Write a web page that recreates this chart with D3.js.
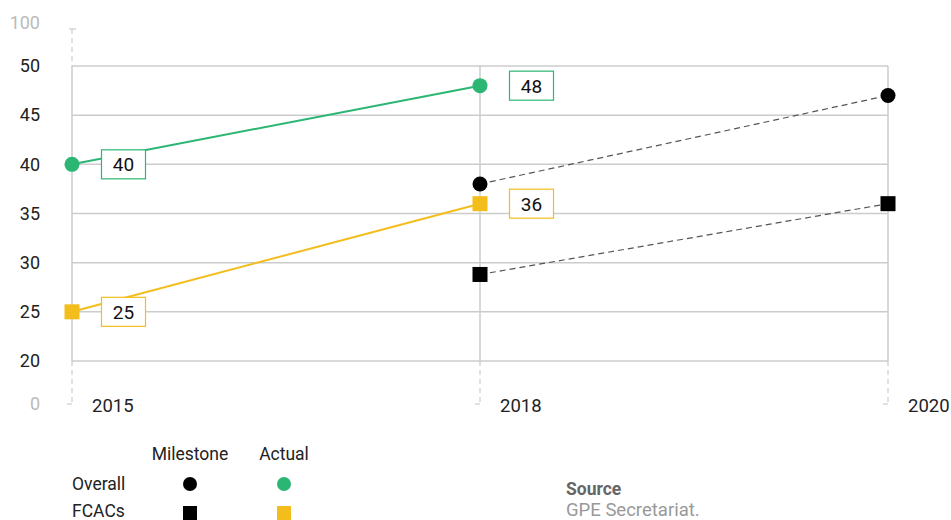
<!DOCTYPE html>
<html>
<head>
<meta charset="utf-8">
<script src="https://cdn.jsdelivr.net/npm/d3@7"></script>
<style>
  body { margin: 0; background: #fff; }
  svg { font-family: Roboto, "DejaVu Sans", sans-serif; }
</style>
</head>
<body>
<svg id="chart" width="951" height="520"></svg>
<script>
// data
const years = ["2015", "2018", "2020"];
const yTicks = [20, 25, 30, 35, 40, 45, 50];
const overallActual = [["2015", 40], ["2018", 48]];
const fcacActual = [["2015", 25], ["2018", 36]];
const overallMilestone = [["2018", 38], ["2020", 47]];
const fcacMilestone = [["2018", 28.8], ["2020", 36]];

const green = "#2bb673";
const yellow = "#f3bd1b";
const grid = "#cccccc";

const svg = d3.select("#chart");

let x = d3.scalePoint().domain(years).range([72, 888]);
let y = d3.scaleLinear().domain([20, 50]).range([361, 66]);

// gridlines
svg.append("g").selectAll("line").data(yTicks).join("line")
  .attr("x1", 72).attr("x2", 888)
  .attr("y1", d => y(d)).attr("y2", d => y(d))
  .attr("stroke", grid).attr("stroke-width", 1.5);

// vertical lines per year, solid inside, dashed below (axis break)
years.forEach(function(yr) {
  let xx = x(yr);
  svg.append("line").attr("x1", xx).attr("x2", xx).attr("y1", y(50)).attr("y2", y(20))
    .attr("stroke", grid).attr("stroke-width", 1.5);
  svg.append("line").attr("x1", xx).attr("x2", xx).attr("y1", y(20)).attr("y2", 404)
    .attr("stroke", grid).attr("stroke-width", 1.2).attr("stroke-dasharray", "5,4");
  svg.append("line").attr("x1", xx - 5).attr("x2", xx).attr("y1", 404).attr("y2", 404)
    .attr("stroke", grid).attr("stroke-width", 1.2);
});
// top break on left axis
svg.append("line").attr("x1", 72).attr("x2", 72).attr("y1", 29).attr("y2", y(50))
  .attr("stroke", grid).attr("stroke-width", 1.2).attr("stroke-dasharray", "5,4");
svg.append("line").attr("x1", 69).attr("x2", 76).attr("y1", 29).attr("y2", 29)
  .attr("stroke", grid).attr("stroke-width", 1.2);

// y labels
svg.append("g").selectAll("text").data(yTicks).join("text")
  .attr("x", 40).attr("y", d => y(d)).attr("dy", "0.35em")
  .attr("text-anchor", "end").attr("font-size", 18).attr("fill", "#222")
  .text(d => d);
svg.append("text").attr("x", 40).attr("y", 23).attr("dy", "0.35em")
  .attr("text-anchor", "end").attr("font-size", 18).attr("fill", "#bbb").text("100");
svg.append("text").attr("x", 40).attr("y", 404).attr("dy", "0.35em")
  .attr("text-anchor", "end").attr("font-size", 18).attr("fill", "#bbb").text("0");

// x labels
svg.append("g").selectAll("text").data(years).join("text")
  .attr("x", d => x(d) + 20).attr("y", 406).attr("dy", "0.35em")
  .attr("font-size", 18.5).attr("fill", "#222")
  .text(d => d);

let line = d3.line().x(d => x(d[0])).y(d => y(d[1]));

// milestone dashed lines
[overallMilestone, fcacMilestone].forEach(function(s) {
  svg.append("path").attr("d", line(s)).attr("fill", "none")
    .attr("stroke", "#555").attr("stroke-width", 1.2).attr("stroke-dasharray", "6,4");
});
// actual lines
svg.append("path").attr("d", line(overallActual)).attr("fill", "none")
  .attr("stroke", green).attr("stroke-width", 2);
svg.append("path").attr("d", line(fcacActual)).attr("fill", "none")
  .attr("stroke", yellow).attr("stroke-width", 2);

function circles(data, color) {
  svg.append("g").selectAll("circle").data(data).join("circle")
    .attr("cx", d => x(d[0])).attr("cy", d => y(d[1])).attr("r", 7.5)
    .attr("fill", color);
}
function squares(data, color) {
  svg.append("g").selectAll("rect").data(data).join("rect")
    .attr("x", d => x(d[0]) - 7.5).attr("y", d => y(d[1]) - 7.5)
    .attr("width", 15).attr("height", 15).attr("fill", color);
}
circles(overallMilestone, "#000");
squares(fcacMilestone, "#000");
circles(overallActual, green);
squares(fcacActual, yellow);

// value boxes
function boxes(data, color) {
  let g = svg.append("g").selectAll("g").data(data).join("g")
    .attr("transform", d => "translate(" + (x(d[0]) + 29.5) + "," + y(d[1]) + ")");
  g.append("rect").attr("x", 0).attr("y", -14.5).attr("width", 44).attr("height", 29)
    .attr("fill", "#fff").attr("stroke", color).attr("stroke-width", 1.2);
  g.append("text").attr("x", 22).attr("dy", "0.36em").attr("text-anchor", "middle")
    .attr("font-size", 19).attr("fill", "#111").text(d => d[1]);
}
boxes(overallActual, green);
boxes(fcacActual, yellow);

// legend
let lg = svg.append("g").attr("font-size", 17.5).attr("fill", "#222");
lg.append("text").attr("x", 190).attr("y", 454).attr("dy", "0.35em").attr("text-anchor", "middle").text("Milestone");
lg.append("text").attr("x", 284).attr("y", 454).attr("dy", "0.35em").attr("text-anchor", "middle").text("Actual");
lg.append("text").attr("x", 72).attr("y", 484).attr("dy", "0.35em").text("Overall");
lg.append("text").attr("x", 72).attr("y", 511).attr("dy", "0.35em").text("FCACs");
lg.append("circle").attr("cx", 190).attr("cy", 484).attr("r", 7).attr("fill", "#000");
lg.append("circle").attr("cx", 284).attr("cy", 484).attr("r", 7).attr("fill", green);
lg.append("rect").attr("x", 183).attr("y", 506).attr("width", 14).attr("height", 14).attr("fill", "#000");
lg.append("rect").attr("x", 277).attr("y", 506).attr("width", 14).attr("height", 14).attr("fill", yellow);

// source
svg.append("text").attr("x", 566).attr("y", 489).attr("dy", "0.35em")
  .attr("font-size", 17.5).attr("font-weight", "bold").attr("fill", "#666").text("Source");
svg.append("text").attr("x", 566).attr("y", 510).attr("dy", "0.35em")
  .attr("font-size", 18.5).attr("fill", "#999").text("GPE Secretariat.");
</script>
</body>
</html>
